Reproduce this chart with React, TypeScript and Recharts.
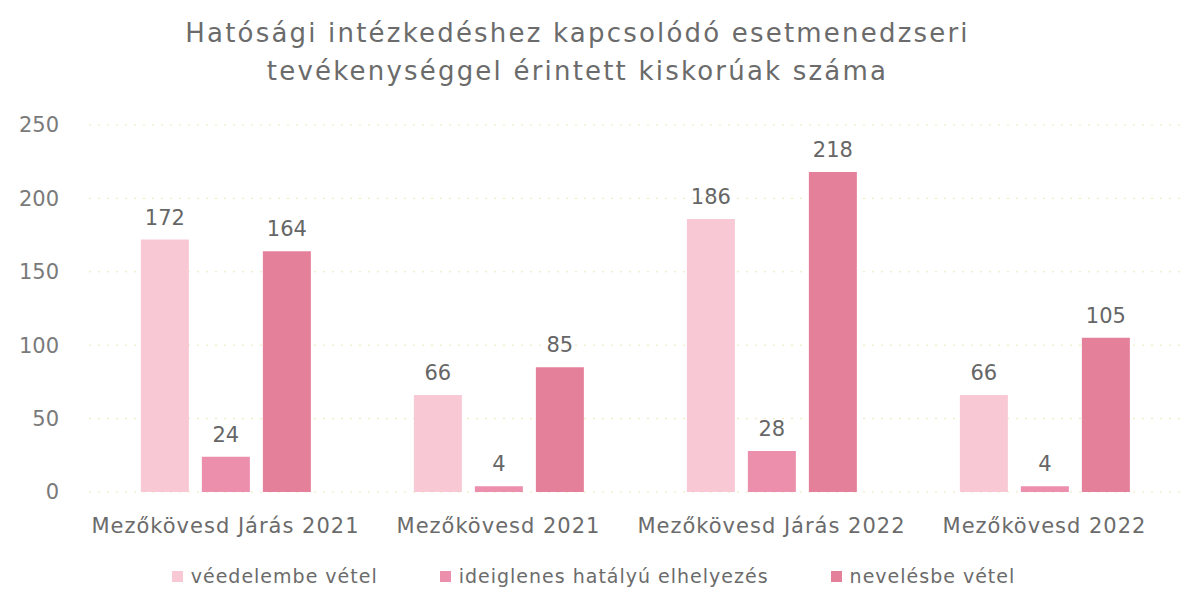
import React from 'react';
import { BarChart, Bar, XAxis, YAxis, CartesianGrid, LabelList } from 'recharts';

const categories = ['Mezőkövesd Járás 2021', 'Mezőkövesd 2021', 'Mezőkövesd Járás 2022', 'Mezőkövesd 2022'];
const vedelembeVetel = [172, 66, 186, 66];
const ideiglenes = [24, 4, 28, 4];
const nevelesbeVetel = [164, 85, 218, 105];
const yTicks = [0, 50, 100, 150, 200, 250];

const series = [
  { key: 'vedelem', name: 'véedelembe vétel', color: '#f8c9d5' },
  { key: 'ideiglenes', name: 'ideiglenes hatályú elhelyezés', color: '#ec8fad' },
  { key: 'neveles', name: 'nevelésbe vétel', color: '#e5809b' },
];

const data = categories.map((name, i) => ({
  name,
  vedelem: vedelembeVetel[i],
  ideiglenes: ideiglenes[i],
  neveles: nevelesbeVetel[i],
}));

const FONT = '"DejaVu Sans", sans-serif';
const TEXT = '#6b6b6b';

export default function App() {
  return (
    <div style={{ position: 'absolute', left: 0, top: 0, width: 1197, height: 615, background: '#fff', fontFamily: FONT }}>
      <div style={{ position: 'absolute', top: 14, left: 0, width: 1155, textAlign: 'center', color: TEXT, fontSize: 26, lineHeight: '38px', letterSpacing: 2.2 }}>
        Hatósági intézkedéshez kapcsolódó esetmenedzseri
        <br />
        tevékenységgel érintett kiskorúak száma
      </div>
      <BarChart
        width={1197}
        height={615}
        data={data}
        margin={{ top: 125, right: 16, left: 0, bottom: 65 }}
        barCategoryGap="19%"
        barGap={13}
      >
        <CartesianGrid vertical={false} stroke="#eee6b8" strokeDasharray="2 7" />
        <XAxis
          dataKey="name"
          axisLine={false}
          tickLine={false}
          tick={{ fill: TEXT, fontSize: 21, fontFamily: FONT, letterSpacing: 1 }}
          tickMargin={20}
          height={58}
        />
        <YAxis
          width={89}
          domain={[0, 250]}
          ticks={yTicks}
          axisLine={false}
          tickLine={false}
          tick={{ fill: '#7a7a7a', fontSize: 21, fontFamily: FONT }}
          tickMargin={24}
        />
        {series.map((s) => (
          <Bar key={s.key} dataKey={s.key} name={s.name} fill={s.color} isAnimationActive={false}>
            <LabelList dataKey={s.key} position="top" offset={15} fill="#666" fontSize={21} fontFamily={FONT} />
          </Bar>
        ))}
      </BarChart>
      <div style={{ position: 'absolute', top: 565, left: 0, width: 1197, display: 'flex', justifyContent: 'center', gap: 62, color: TEXT, fontSize: 19, letterSpacing: 1, paddingRight: 10, boxSizing: 'border-box' }}>
        {series.map((s) => (
          <div key={s.key} style={{ display: 'flex', alignItems: 'center' }}>
            <span style={{ display: 'inline-block', width: 11, height: 11, background: s.color, marginRight: 8 }} />
            <span>{s.name}</span>
          </div>
        ))}
      </div>
    </div>
  );
}
